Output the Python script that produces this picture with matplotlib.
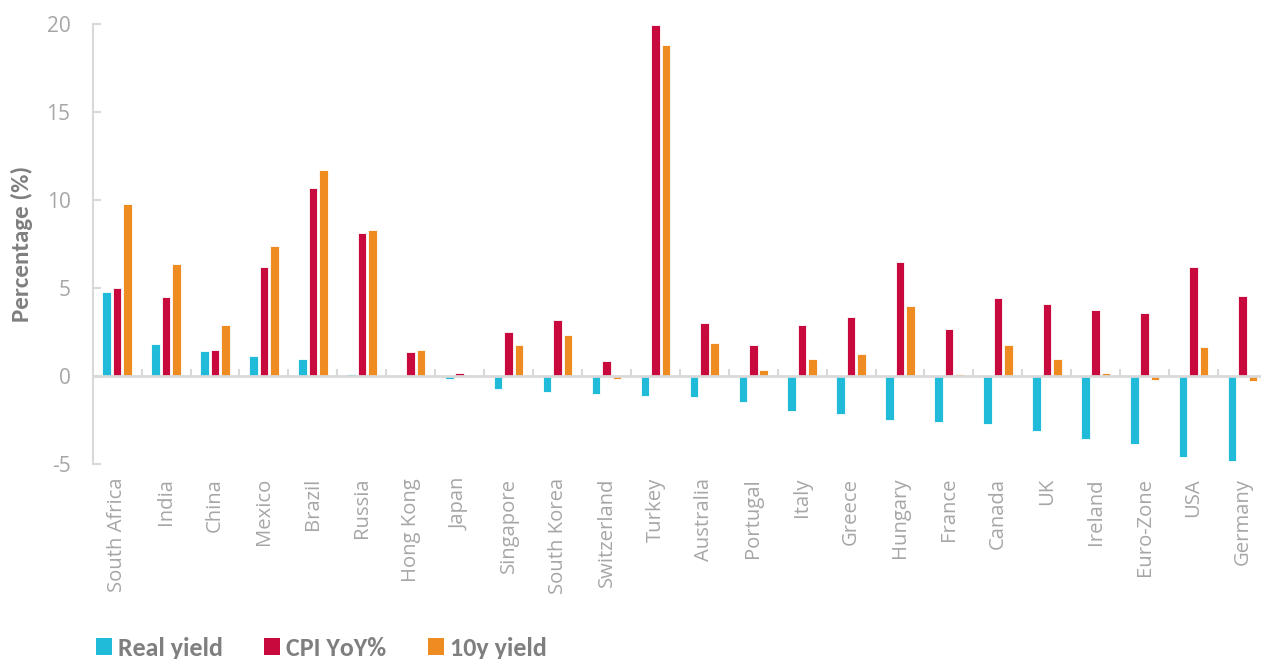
import matplotlib
matplotlib.use("Agg")
import matplotlib.pyplot as plt
import numpy as np
from matplotlib.patches import Patch
from matplotlib import font_manager as fm

categories = ["South Africa", "India", "China", "Mexico", "Brazil", "Russia", "Hong Kong",
              "Japan", "Singapore", "South Korea", "Switzerland", "Turkey", "Australia",
              "Portugal", "Italy", "Greece", "Hungary", "France", "Canada", "UK", "Ireland",
              "Euro-Zone", "USA", "Germany"]
real_yield = [4.75, 1.84, 1.42, 1.14, 0.97, 0.13, 0.05, -0.15, -0.72, -0.89, -1.04, -1.14,
              -1.17, -1.46, -1.99, -2.18, -2.50, -2.61, -2.71, -3.14, -3.58, -3.88, -4.58, -4.81]
cpi_yoy = [5.00, 4.49, 1.50, 6.19, 10.70, 8.10, 1.38, 0.17, 2.48, 3.18, 0.87, 19.93,
           2.99, 1.78, 2.90, 3.37, 6.50, 2.67, 4.41, 4.11, 3.73, 3.58, 6.19, 4.53]
ten_y_yield = [9.77, 6.35, 2.90, 7.37, 11.69, 8.28, 1.48, 0.05, 1.78, 2.31, -0.15, 18.83,
               1.86, 0.34, 0.95, 1.23, 4.00, 0.10, 1.76, 0.97, 0.17, -0.25, 1.63, -0.27]
series_names = ["Real yield", "CPI YoY%", "10y yield"]
yticks = [-5, 0, 5, 10, 15, 20]

installed = {f.name for f in fm.fontManager.ttflist}
bold_font = "Carlito" if "Carlito" in installed else "Lato"
bold_size_scale = 1.0 if bold_font == "Carlito" else 0.92

colors = ["#21BBDA", "#C8093D", "#EE8C22"]
W, H = 1261, 659
fig = plt.figure(figsize=(W / 100, H / 100), dpi=100)
plt.rcParams['axes.unicode_minus'] = False

left = 92.7 / W
right = 1267 / W
top = 24 / H
bottom = 464 / H
ax = fig.add_axes([left, 1 - bottom, right - left, bottom - top])
axw = right * W - 92.7

n = len(categories)
x = np.arange(n)
bw = 0.175
step = 0.213
for i, (vals, c) in enumerate(zip([real_yield, cpi_yoy, ten_y_yield], colors)):
    ax.bar(x + (i - 1) * step, vals, width=bw, color=c, edgecolor="white",
           linewidth=0.6, zorder=2)

ax.set_xlim(-0.5, n - 0.5)
ax.set_ylim(-5, 20)
ax.axhline(0, color="#d9d9d9", lw=2, zorder=3)
ax.vlines(np.arange(n - 1) + 0.5, 0, 0.4, color="#d9d9d9", lw=1.5, zorder=3)

for s in ["top", "right", "bottom"]:
    ax.spines[s].set_visible(False)
ax.spines["left"].set_color("#d9d9d9")
ax.spines["left"].set_linewidth(1.5)

ax.set_yticks(yticks)
ax.set_yticklabels([str(v) for v in yticks], fontfamily="Open Sans", fontsize=15, color="#a6a6a6")
ax.tick_params(axis="y", direction="in", length=6, width=1.5, color="#d9d9d9", pad=16)

ax.set_xticks(x)
ax.set_xticklabels(categories, rotation=90, fontfamily="Open Sans", fontsize=14.6,
                   color="#a6a6a6", va="top")
ax.tick_params(axis="x", length=0, pad=10)

ax.set_ylabel("Percentage (%)", fontfamily=[bold_font, "DejaVu Sans"], fontweight="bold",
              fontsize=18 * bold_size_scale, color="#7f7f7f")
ax.yaxis.set_label_coords((33 - 92.7) / axw, 0.5)

handles = [Patch(facecolor=c, edgecolor="none") for c in colors]
leg = fig.legend(handles, series_names, loc="center left",
                 bbox_to_anchor=(96 / W, 1 - 648 / H), ncol=3, frameon=False,
                 prop={"family": [bold_font, "DejaVu Sans"], "weight": "bold",
                       "size": 18.7 * bold_size_scale},
                 handlelength=0.62, handleheight=0.62, handletextpad=0.22,
                 columnspacing=1.6, borderpad=0, borderaxespad=0)
for t in leg.get_texts():
    t.set_color("#7f7f7f")

fig.savefig("out.png", dpi=100)
